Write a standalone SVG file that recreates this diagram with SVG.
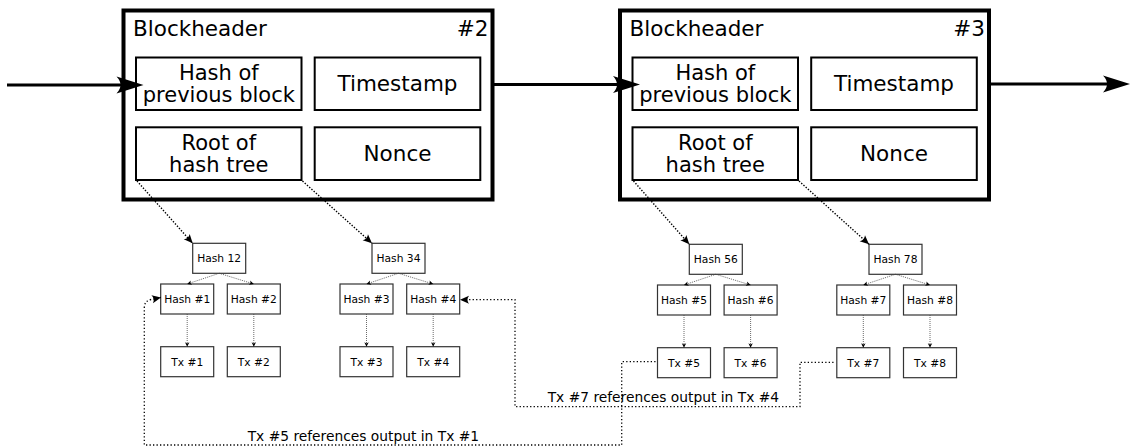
<svg xmlns="http://www.w3.org/2000/svg" width="1134" height="447" viewBox="0 0 1134 447">
<style>
text{font-family:"DejaVu Sans","Liberation Sans",sans-serif;fill:#000}
.block{fill:#fff;stroke:#000;stroke-width:4}
.field{fill:#fff;stroke:#000;stroke-width:2}
.title{font-size:21.5px}
.ft{font-size:21.5px;text-anchor:middle}
.ft2{font-size:21px;text-anchor:middle}
.tn{fill:#fff;stroke:#333;stroke-width:1.2}
.tt{font-size:10.7px;text-anchor:middle}
.main{fill:none;stroke:#000;stroke-width:3;marker-end:url(#big)}
.root{fill:none;stroke:#000;stroke-width:1.4;stroke-dasharray:1.4 1.6;marker-end:url(#mid)}
.tree{fill:none;stroke:#444;stroke-width:0.8;stroke-dasharray:1 1;marker-end:url(#small)}
.ref{fill:none;stroke:#000;stroke-width:1.3;stroke-dasharray:1.3 2.2;marker-end:url(#mid)}
.lbl{font-size:13.8px}
</style>
<defs>
<marker id="big" markerUnits="userSpaceOnUse" viewBox="-28 -10 30 20" markerWidth="30" markerHeight="20" refX="-12" refY="0" orient="auto"><path d="M0,0 L-27,-8.5 Q-19,0 -27,8.5 Z" fill="#000"/></marker>
<marker id="mid" markerUnits="userSpaceOnUse" viewBox="-10 -5 11 10" markerWidth="11" markerHeight="10" refX="0" refY="0" orient="auto"><path d="M0,0 L-9,-4 Q-6,0 -9,4 Z" fill="#000"/></marker>
<marker id="small" markerUnits="userSpaceOnUse" viewBox="-5 -3 6 6" markerWidth="6" markerHeight="6" refX="0" refY="0" orient="auto"><path d="M0,0 L-4.5,-2.2 L-3.3,0 L-4.5,2.2 Z" fill="#000"/></marker>
</defs>

<g id="block2">
<rect class="block" x="123.5" y="10.5" width="369" height="189"/>
<text class="title" x="133" y="36">Blockheader</text>
<text class="title" x="488.5" y="36" text-anchor="end">#2</text>
<g id="block2-prevhash"><rect class="field" x="136" y="57.5" width="165.5" height="52.5"/><text class="ft2" x="218.8" y="80">Hash of<tspan x="218.8" y="102">previous block</tspan></text></g>
<g id="block2-timestamp"><rect class="field" x="314.7" y="57.5" width="165.6" height="52.5"/><text class="ft" x="397.5" y="90.5">Timestamp</text></g>
<g id="block2-root"><rect class="field" x="136" y="127.3" width="165.5" height="52.7"/><text class="ft2" x="218.8" y="150">Root of<tspan x="218.8" y="172">hash tree</tspan></text></g>
<g id="block2-nonce"><rect class="field" x="314.7" y="127.3" width="165.6" height="52.7"/><text class="ft" x="397.5" y="160.5">Nonce</text></g>
</g>

<g id="block3" transform="translate(496.5,0)">
<rect class="block" x="123.5" y="10.5" width="369" height="189"/>
<text class="title" x="133" y="36">Blockheader</text>
<text class="title" x="488.5" y="36" text-anchor="end">#3</text>
<g id="block3-prevhash"><rect class="field" x="136" y="57.5" width="165.5" height="52.5"/><text class="ft2" x="218.8" y="80">Hash of<tspan x="218.8" y="102">previous block</tspan></text></g>
<g id="block3-timestamp"><rect class="field" x="314.7" y="57.5" width="165.6" height="52.5"/><text class="ft" x="397.5" y="90.5">Timestamp</text></g>
<g id="block3-root"><rect class="field" x="136" y="127.3" width="165.5" height="52.7"/><text class="ft2" x="218.8" y="150">Root of<tspan x="218.8" y="172">hash tree</tspan></text></g>
<g id="block3-nonce"><rect class="field" x="314.7" y="127.3" width="165.6" height="52.7"/><text class="ft" x="397.5" y="160.5">Nonce</text></g>
</g>

<g id="hash12"><rect class="tn" x="192.7" y="243.3" width="53" height="30"/><text class="tt" x="219.2" y="262">Hash 12</text></g>
<g id="hash34"><rect class="tn" x="372" y="243.3" width="53" height="30"/><text class="tt" x="398.5" y="262">Hash 34</text></g>
<g id="hash1"><rect class="tn" x="160.7" y="284" width="53" height="30"/><text class="tt" x="187.2" y="303">Hash #1</text></g>
<g id="hash2"><rect class="tn" x="227.3" y="284" width="53" height="30"/><text class="tt" x="253.8" y="303">Hash #2</text></g>
<g id="hash3"><rect class="tn" x="340" y="284" width="53" height="30"/><text class="tt" x="366.5" y="303">Hash #3</text></g>
<g id="hash4"><rect class="tn" x="406.7" y="284" width="53" height="30"/><text class="tt" x="433.2" y="303">Hash #4</text></g>
<g id="tx1"><rect class="tn" x="160.7" y="346.7" width="53" height="30"/><text class="tt" x="187.2" y="366">Tx #1</text></g>
<g id="tx2"><rect class="tn" x="227.3" y="346.7" width="53" height="30"/><text class="tt" x="253.8" y="366">Tx #2</text></g>
<g id="tx3"><rect class="tn" x="340" y="346.7" width="53" height="30"/><text class="tt" x="366.5" y="366">Tx #3</text></g>
<g id="tx4"><rect class="tn" x="406.7" y="346.7" width="53" height="30"/><text class="tt" x="433.2" y="366">Tx #4</text></g>

<g id="hash56"><rect class="tn" x="689.3" y="244.3" width="53" height="30"/><text class="tt" x="715.8" y="263">Hash 56</text></g>
<g id="hash78"><rect class="tn" x="869" y="244.3" width="53" height="30"/><text class="tt" x="895.5" y="263">Hash 78</text></g>
<g id="hash5"><rect class="tn" x="657.5" y="285" width="53" height="30"/><text class="tt" x="684" y="304">Hash #5</text></g>
<g id="hash6"><rect class="tn" x="724.1" y="285" width="53" height="30"/><text class="tt" x="750.6" y="304">Hash #6</text></g>
<g id="hash7"><rect class="tn" x="836.8" y="285" width="53" height="30"/><text class="tt" x="863.3" y="304">Hash #7</text></g>
<g id="hash8"><rect class="tn" x="903.5" y="285" width="53" height="30"/><text class="tt" x="930" y="304">Hash #8</text></g>
<g id="tx5"><rect class="tn" x="657.5" y="347.7" width="53" height="30"/><text class="tt" x="684" y="367">Tx #5</text></g>
<g id="tx6"><rect class="tn" x="724.1" y="347.7" width="53" height="30"/><text class="tt" x="750.6" y="367">Tx #6</text></g>
<g id="tx7"><rect class="tn" x="836.8" y="347.7" width="53" height="30"/><text class="tt" x="863.3" y="367">Tx #7</text></g>
<g id="tx8"><rect class="tn" x="903.5" y="347.7" width="53" height="30"/><text class="tt" x="930" y="367">Tx #8</text></g>

<g id="connectors">
<path class="main" d="M7,85 H131.5"/>
<path class="main" d="M494,84.5 H628"/>
<path class="main" d="M991,84 H1118"/>
<path class="root" d="M137,181 L192.7,243.3"/>
<path class="root" d="M302.5,181 L372,243.3"/>
<path class="root" d="M633.5,181 L689.3,244.3"/>
<path class="root" d="M799,181 L869,244.3"/>
<path class="tree" d="M219.2,273.3 L187.2,284"/>
<path class="tree" d="M219.2,273.3 L253.8,284"/>
<path class="tree" d="M398.5,273.3 L366.5,284"/>
<path class="tree" d="M398.5,273.3 L433.2,284"/>
<path class="tree" d="M715.8,274.3 L684,285"/>
<path class="tree" d="M715.8,274.3 L750.6,285"/>
<path class="tree" d="M895.5,274.3 L863.3,285"/>
<path class="tree" d="M895.5,274.3 L930,285"/>
<path class="tree" d="M187.2,314 V346.7"/>
<path class="tree" d="M253.8,314 V346.7"/>
<path class="tree" d="M366.5,314 V346.7"/>
<path class="tree" d="M433.2,314 V346.7"/>
<path class="tree" d="M684,315 V347.7"/>
<path class="tree" d="M750.6,315 V347.7"/>
<path class="tree" d="M863.3,315 V347.7"/>
<path class="tree" d="M930,315 V347.7"/>
<path class="ref" d="M655.5,361.7 H621.7 V445 H144.3 V308 Q144.3,301 151,299.5 L161,297.5"/>
<path class="ref" d="M833.5,362.3 H800 V406.7 H515 V299.7 H460"/>
<text class="lbl" x="247.7" y="440.7">Tx #5 references output in Tx #1</text>
<text class="lbl" x="547.7" y="402.3">Tx #7 references output in Tx #4</text>
</g>
</svg>
